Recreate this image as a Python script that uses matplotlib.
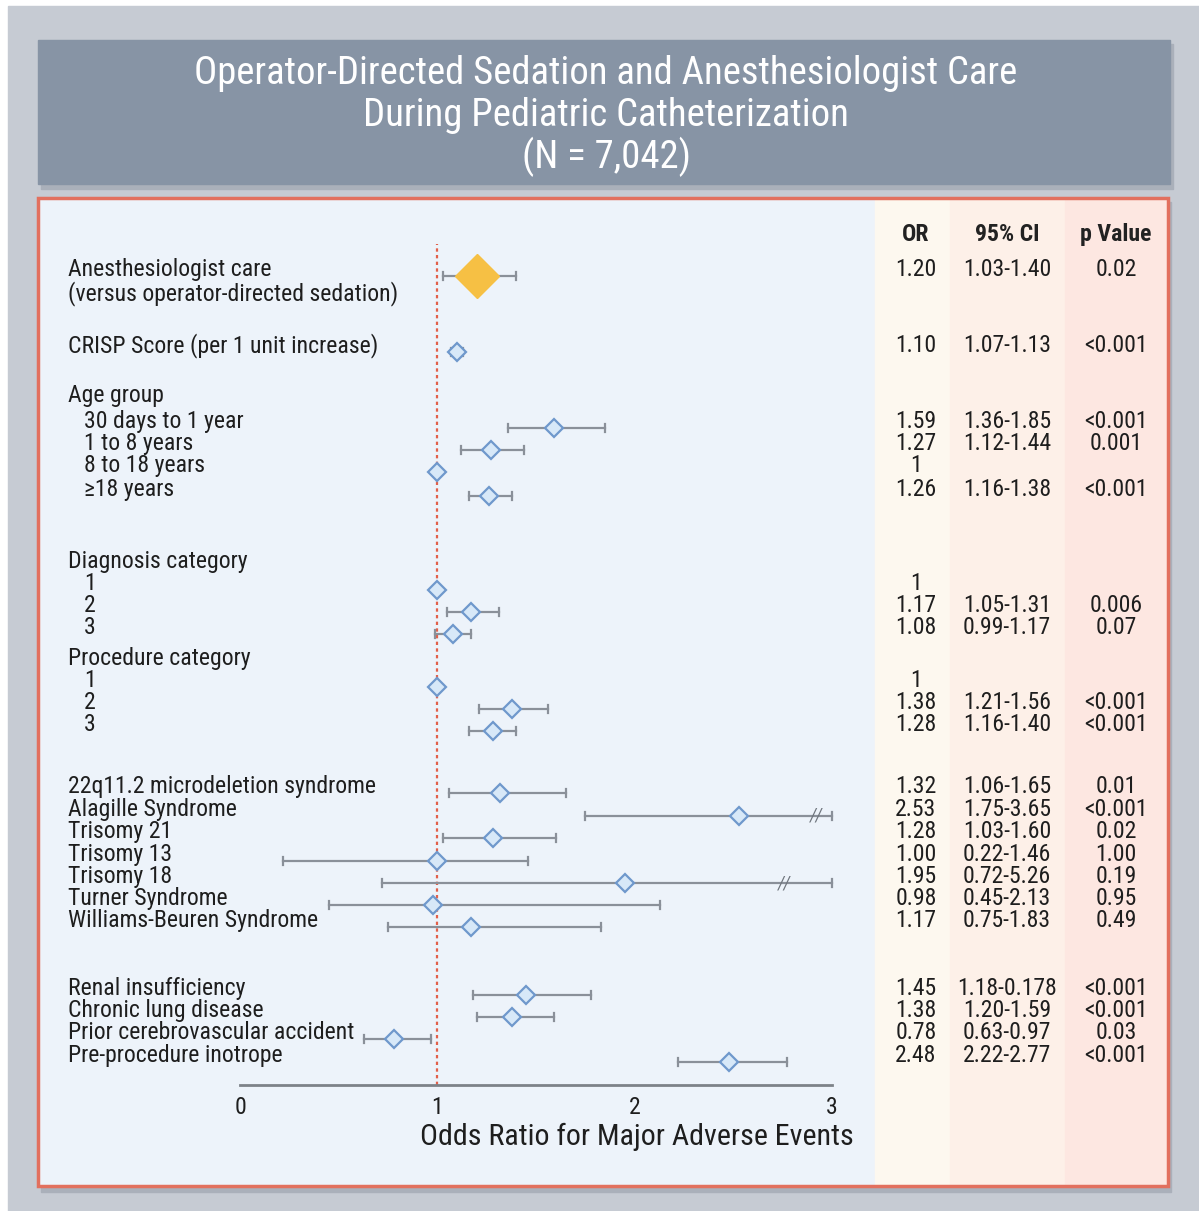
import numpy as np
import matplotlib.pyplot as plt
from matplotlib import font_manager
from matplotlib.patches import Rectangle

# prefer a narrow sans face when one is installed
installed = {f.name for f in font_manager.fontManager.ttflist}
narrow = [n for n in ['Roboto Condensed', 'Liberation Sans Narrow', 'DejaVu Sans Condensed',
                      'Open Sans Condensed', 'Fira Sans Condensed'] if n in installed]
plt.rcParams['font.family'] = narrow[:1] + ['DejaVu Sans']
scale = 1.27 if narrow else 1.0

nan = np.nan

# forest plot rows, top to bottom
labels = [
    "Anesthesiologist care\n(versus operator-directed sedation)",
    "CRISP Score (per 1 unit increase)",
    "Age group", "30 days to 1 year", "1 to 8 years", "8 to 18 years", "\u226518 years",
    "Diagnosis category", "1", "2", "3",
    "Procedure category", "1", "2", "3",
    "22q11.2 microdeletion syndrome", "Alagille Syndrome", "Trisomy 21", "Trisomy 13",
    "Trisomy 18", "Turner Syndrome", "Williams-Beuren Syndrome",
    "Renal insufficiency", "Chronic lung disease", "Prior cerebrovascular accident",
    "Pre-procedure inotrope",
]
indented = [False, False, False, True, True, True, True, False, True, True, True,
            False, True, True, True] + [False] * 11

odds = [1.20, 1.10, nan, 1.59, 1.27, 1.00, 1.26, nan, 1.00, 1.17, 1.08, nan, 1.00, 1.38, 1.28,
        1.32, 2.53, 1.28, 1.00, 1.95, 0.98, 1.17, 1.45, 1.38, 0.78, 2.48]
ci_low = [1.03, 1.07, nan, 1.36, 1.12, nan, 1.16, nan, nan, 1.05, 0.99, nan, nan, 1.21, 1.16,
          1.06, 1.75, 1.03, 0.22, 0.72, 0.45, 0.75, 1.18, 1.20, 0.63, 2.22]
ci_high = [1.40, 1.13, nan, 1.85, 1.44, nan, 1.38, nan, nan, 1.31, 1.17, nan, nan, 1.56, 1.40,
           1.65, 3.65, 1.60, 1.46, 5.26, 2.13, 1.83, 1.78, 1.59, 0.97, 2.77]

or_text = ["1.20", "1.10", "", "1.59", "1.27", "1", "1.26", "", "1", "1.17", "1.08", "", "1",
           "1.38", "1.28", "1.32", "2.53", "1.28", "1.00", "1.95", "0.98", "1.17", "1.45",
           "1.38", "0.78", "2.48"]
ci_text = ["1.03-1.40", "1.07-1.13", "", "1.36-1.85", "1.12-1.44", "", "1.16-1.38", "", "",
           "1.05-1.31", "0.99-1.17", "", "", "1.21-1.56", "1.16-1.40", "1.06-1.65", "1.75-3.65",
           "1.03-1.60", "0.22-1.46", "0.72-5.26", "0.45-2.13", "0.75-1.83", "1.18-0.178",
           "1.20-1.59", "0.63-0.97", "2.22-2.77"]
p_text = ["0.02", "<0.001", "", "<0.001", "0.001", "", "<0.001", "", "", "0.006", "0.07", "", "",
          "<0.001", "<0.001", "0.01", "<0.001", "0.02", "1.00", "0.19", "0.95", "0.49",
          "<0.001", "<0.001", "0.03", "<0.001"]

xticks = [0, 1, 2, 3]

# vertical position of each row (figure pixels from the top)
row_y = [276, 352, 402, 428, 450, 472, 496, 568, 590, 612, 634, 665, 687, 709, 731,
         793, 816, 838, 861, 883, 905, 927, 995, 1017, 1039, 1062]
# where the axis break is drawn on truncated intervals
break_at = {"Alagille Syndrome": 2.92, "Trisomy 18": 2.76}

W, H = 1199, 1211
fig = plt.figure(figsize=(W / 100, H / 100), dpi=100)
bg = fig.add_axes([0, 0, 1, 1])
bg.set_xlim(0, W)
bg.set_ylim(H, 0)
bg.axis('off')

bg.add_patch(Rectangle((8, 6), W - 8, H - 6, color='#c6cbd3', zorder=0))

# title banner
bg.add_patch(Rectangle((41, 44), 1132, 145, color='#aab0ba', zorder=1))
bg.add_patch(Rectangle((38, 40), 1132, 144, color='#8794a5', zorder=2))
title = ["Operator-Directed Sedation and Anesthesiologist Care",
         "During Pediatric Catheterization", "(N = 7,042)"]
for i, line in enumerate(title):
    bg.text(606, 74 + 41.5 * i, line, ha='center', va='center', color='white',
            fontsize=22 * scale, zorder=3)

# main panel with table columns
bg.add_patch(Rectangle((41, 202), 1130, 990, color='#aab0ba', zorder=1))
bg.add_patch(Rectangle((38, 198), 1130, 988, facecolor='#edf3fa', edgecolor='none', zorder=2))
bg.add_patch(Rectangle((875, 198), 75, 988, color='#fdf8ef', zorder=2))
bg.add_patch(Rectangle((950, 198), 115, 988, color='#fdf0e8', zorder=2))
bg.add_patch(Rectangle((1065, 198), 103, 988, color='#fde7e1', zorder=2))
bg.add_patch(Rectangle((38, 198), 1130, 988, facecolor='none', edgecolor='#e2705e',
                       lw=2.5, zorder=4))

fs = 13.5 * scale
col_x = [916, 1007, 1116]
for x, head in zip(col_x, ["OR", "95% CI", "p Value"]):
    bg.text(x, 241, head, ha='center', va='baseline', fontsize=fs, fontweight='semibold',
            color='#222222', zorder=5)

for y, lab, ind, o, c, p in zip(row_y, labels, indented, or_text, ci_text, p_text):
    for k, line in enumerate(lab.split("\n")):
        bg.text(84 if ind else 68, y + 24 * k, line, ha='left', va='baseline',
                fontsize=fs, color='#1e1e1e', zorder=5)
    for x, s in zip(col_x, [o, c, p]):
        bg.text(x, y, s, ha='center', va='baseline', fontsize=fs, color='#1e1e1e', zorder=5)

# forest plot axes share the pixel rows of the figure
ax = fig.add_axes([240 / W, 1 - 1085 / H, 592 / W, 845 / H])
ax.set_xlim(0, 3)
ax.set_ylim(1085, 240)
ax.patch.set_alpha(0)
for s in ['top', 'left', 'right']:
    ax.spines[s].set_visible(False)
ax.spines['bottom'].set_color('#7d8288')
ax.spines['bottom'].set_linewidth(2)
ax.set_yticks([])
ax.set_xticks(xticks)
ax.tick_params(axis='x', length=0, pad=8, labelsize=fs, labelcolor='#1e1e1e')
ax.set_xlabel("Odds Ratio for Major Adverse Events", fontsize=17 * scale, color='#1e1e1e')
ax.xaxis.set_label_coords(0.67, -0.045)

ax.axvline(1, ymin=0, ymax=0.995, color='#e2604a', lw=1.6, ls=(0, (1.5, 1.5)), zorder=1)

for y, lab, o, lo, hi in zip(row_y, labels, odds, ci_low, ci_high):
    if np.isnan(o):
        continue
    if not np.isnan(lo):
        top = min(hi, 3)
        ax.plot([lo, top], [y, y], color='#8a9099', lw=1.6, zorder=2, clip_on=False)
        ax.plot([lo, lo], [y - 4, y + 4], color='#8a9099', lw=1.6, zorder=2, clip_on=False)
        ax.plot([top, top], [y - 4, y + 4], color='#8a9099', lw=1.6, zorder=2, clip_on=False)
        if lab in break_at:
            ax.text(break_at[lab], y, "//", ha='center', va='center', fontsize=13,
                    color='#6f757d', fontstyle='italic', zorder=3)
    if lab.startswith("Anesthesiologist"):
        ax.plot(o, y, marker='D', ms=22, color='#f6c044', mec='#f6c044', zorder=4)
    else:
        ax.plot(o, y, marker='D', ms=9, mfc='#d7e8f8', mec='#6f98cc', mew=1.6, zorder=4)

fig.savefig("out.png", dpi=100)
